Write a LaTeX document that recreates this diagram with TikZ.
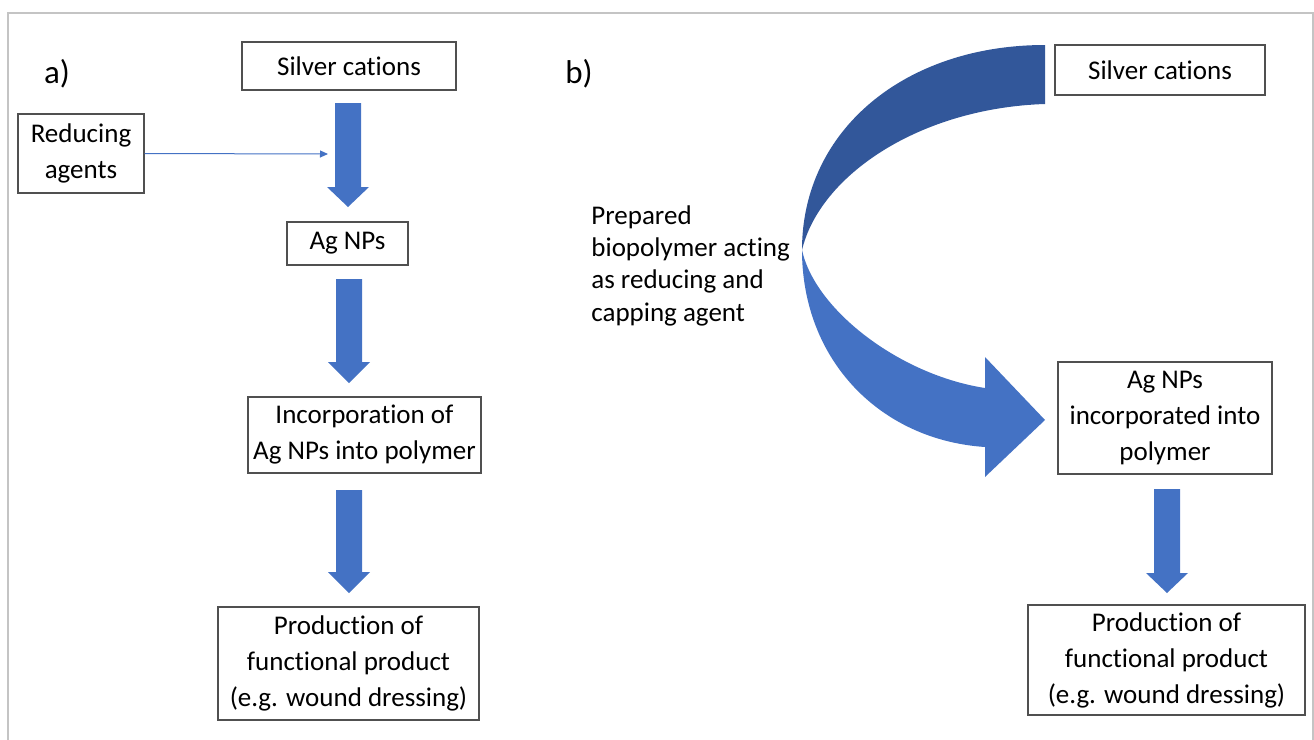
\documentclass[tikz,border=0pt]{standalone}
\usepackage{fontspec}
\setmainfont[Ligatures=NoCommon]{Carlito}
\usetikzlibrary{arrows.meta}
\definecolor{blockblue}{HTML}{4472C4}
\definecolor{darkblue}{HTML}{32579A}
\definecolor{framegray}{HTML}{C4C4C4}
\definecolor{boxgray}{HTML}{505050}
\newcommand{\blkarrow}[4]{%
  \fill[blockblue, shift={(#1,0)}] (-13,#2) -- (13,#2) -- (13,#3) -- (21,#3) -- (0,#4) -- (-21,#3) -- (-13,#3) -- cycle;}
\begin{document}
\begin{tikzpicture}[x=0.5pt,y=-0.5pt,
  every node/.style={font=\fontsize{13.5}{18}\selectfont, inner sep=0pt},
  box/.style={draw=boxgray, line width=0.6pt, align=center, fill=white},
  lbl/.style={font=\fontsize{16.5}{20}\selectfont},
  thin/.style={draw=blockblue, line width=0.5pt, -{Triangle[length=4pt,width=3.5pt]}}]
\useasboundingbox (0,0) rectangle (1314,740);
\draw[framegray, line width=1.1pt] (8,760) -- (8,13) -- (1313,13) -- (1313,760);

% labels
\node[lbl] (la) at (57,74) {a)};
\node[lbl] (lb) at (579,74) {b)};

% left column
\node[box, minimum width=107pt, minimum height=24pt] (sc1) at (349,66) {Silver cations};
\node[box, minimum width=63pt, minimum height=39.5pt] (ra) at (81,153.5) {Reducing\\agents};
\node[box, minimum width=60.5pt, minimum height=21.5pt] (ag1) at (347.5,243.5) {Ag NPs};
\node[box, minimum width=116.5pt, minimum height=38pt] (inc) at (364.5,435) {Incorporation of\\Ag NPs into polymer};
\node[box, minimum width=130.5pt, minimum height=56.5pt] (prod1) at (348.5,663.5) {Production of\\functional product\\(e.g. wound dressing)};

\blkarrow{348}{103}{187}{207}
\blkarrow{349}{279}{362}{383}
\blkarrow{349}{490}{572}{593}

\coordinate (raend) at (328,154);
\draw[thin] (ra.east) -- (raend);

% right column
\node[box, minimum width=105pt, minimum height=25pt] (sc2) at (1160,70) {Silver cations};
\node[box, minimum width=107pt, minimum height=56pt] (ag2) at (1165,418) {Ag NPs\\incorporated into\\polymer};
\node[box, minimum width=138.5pt, minimum height=55pt] (prod2) at (1166.5,660) {Production of\\functional product\\(e.g. wound dressing)};

\blkarrow{1167}{489}{573}{593}

\node[align=left, anchor=north west, font=\fontsize{13.5}{16.2}\selectfont] (prep) at (591,205) {Prepared\\biopolymer acting\\as reducing and\\capping agent};

% curved arrow
\fill[darkblue] (1045,45) .. controls (905,45) and (802,130) .. (802,250)
  .. controls (820,175) and (920,108) .. (1045,104) -- cycle;
\fill[blockblue] (802,250) .. controls (802,360) and (880,440) .. (985,447)
  -- (985,477) -- (1045,420) -- (985,357) -- (985,388)
  .. controls (900,375) and (815,310) .. (802,250) -- cycle;
\end{tikzpicture}
\end{document}
